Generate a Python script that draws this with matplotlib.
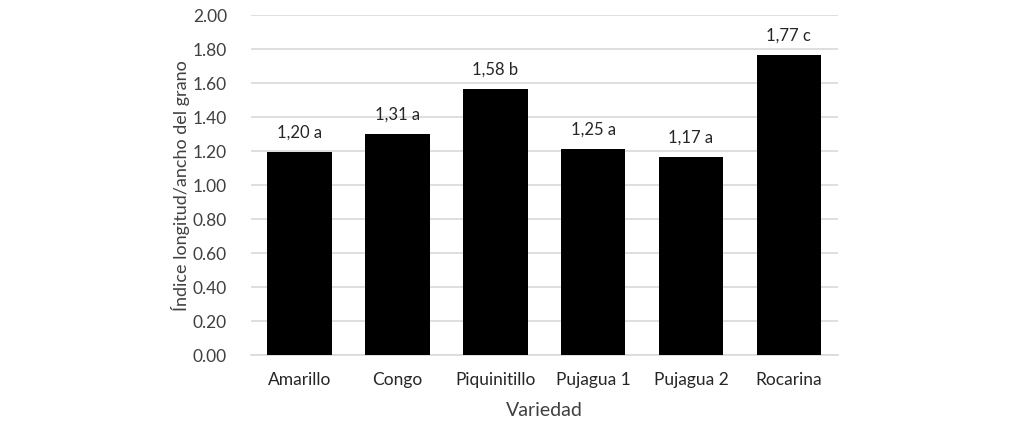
import matplotlib
matplotlib.use("Agg")
import matplotlib.pyplot as plt

categories = ["Amarillo", "Congo", "Piquinitillo", "Pujagua 1", "Pujagua 2", "Rocarina"]
values = [1.19, 1.30, 1.56, 1.21, 1.16, 1.76]
labels = ["1,20 a", "1,31 a", "1,58 b", "1,25 a", "1,17 a", "1,77 c"]
yticks = [0.0, 0.2, 0.4, 0.6, 0.8, 1.0, 1.2, 1.4, 1.6, 1.8, 2.0]

plt.rcParams['font.family'] = ['Lato', 'DejaVu Sans']

fig = plt.figure(figsize=(10.13, 4.31), dpi=100)
ax = fig.add_axes([0.2475, 0.1747, 0.5795, 0.7889])

x = range(len(categories))
bars = ax.bar(x, values, width=0.66, color="black", zorder=3)
for xi, v, lab in zip(x, values, labels):
    ax.annotate(lab, (xi, v), xytext=(0, 9), textcoords="offset points",
                ha="center", va="bottom", fontsize=12, color="#262626")

ax.set_xlim(-0.5, len(categories) - 0.5)
ax.set_ylim(0, 2.0)
ax.set_yticks(yticks)
ax.set_yticklabels([f"{t:.2f}" for t in yticks], fontsize=12.5, color="#404040")
ax.set_xticks(list(x))
ax.set_xticklabels(categories, fontsize=12.5, color="#262626")
ax.tick_params(axis="both", length=0)
ax.tick_params(axis="y", pad=17)
ax.tick_params(axis="x", pad=12)
ax.grid(axis="y", color="#d9d9d9", linewidth=1.2, zorder=0)
for s in ["top", "right", "left"]:
    ax.spines[s].set_visible(False)
ax.spines["bottom"].set_color("#d9d9d9")
ax.spines["bottom"].set_linewidth(1.2)

ax.set_ylabel("Índice longitud/ancho del grano", fontsize=13, color="#404040")
ax.yaxis.set_label_coords(-0.103, 0.5)
ax.set_xlabel("Variedad", fontsize=14, color="#404040", labelpad=10)

fig.savefig("out.png", dpi=100)
